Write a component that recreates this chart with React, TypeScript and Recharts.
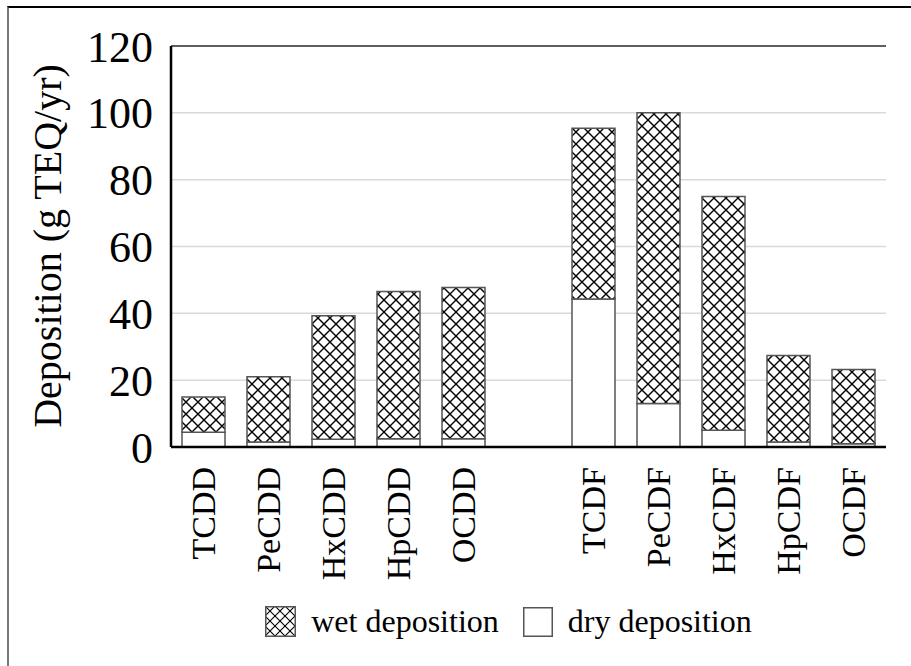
import { Bar, BarChart, CartesianGrid, Legend, ReferenceLine, XAxis, YAxis } from "recharts";

const categories = ["TCDD", "PeCDD", "HxCDD", "HpCDD", "OCDD", "", "TCDF", "PeCDF", "HxCDF", "HpCDF", "OCDF"];
const dryDeposition = [4.4, 1.5, 2.3, 2.5, 2.5, null, 44.3, 13, 5, 1.5, 1.0];
const wetDeposition = [10.6, 19.5, 37.0, 44.0, 45.2, null, 51.1, 87, 70, 25.9, 22.2];
const yTicks = [0, 20, 40, 60, 80, 100, 120];

const data = categories.map((name, i) => ({
  name,
  dry: dryDeposition[i],
  wet: wetDeposition[i],
}));

const serif = '"Liberation Serif", "Times New Roman", serif';

const colors = {
  ink: "#000000",
  barEdge: "#555555",
  grid: "#d9d9d9",
  frame: "#777777",
};

const CategoryTick = (props: any) => {
  const { x, y, payload } = props;
  return (
    <text
      x={x}
      y={y}
      dy="0.35em"
      textAnchor="end"
      transform={`rotate(-90, ${x}, ${y})`}
      fill={colors.ink}
      fontFamily={serif}
      fontSize={34}
    >
      {payload.value}
    </text>
  );
};

const AxisTitle = () => (
  <text
    x={47}
    y={246}
    textAnchor="middle"
    dominantBaseline="central"
    transform="rotate(-90, 47, 246)"
    fill={colors.ink}
    fontFamily={serif}
    fontSize={40}
  >
    Deposition (g TEQ/yr)
  </text>
);

const LegendBox = () => (
  <div
    style={{
      display: "flex",
      alignItems: "center",
      justifyContent: "center",
      fontFamily: serif,
      fontSize: 32,
      color: colors.ink,
    }}
  >
    <svg width={31} height={31} style={{ display: "block" }}>
      <rect x={0.75} y={0.75} width={29.5} height={29.5} fill="url(#crossHatchSmall)" stroke={colors.barEdge} strokeWidth={1.5} />
    </svg>
    <span style={{ marginLeft: 15 }}>wet deposition</span>
    <svg width={30} height={30} style={{ display: "block", marginLeft: 24 }}>
      <rect x={0.75} y={0.75} width={28.5} height={28.5} fill="#ffffff" stroke={colors.barEdge} strokeWidth={1.5} />
    </svg>
    <span style={{ marginLeft: 15 }}>dry deposition</span>
  </div>
);

export default function App() {
  return (
    <div style={{ position: "fixed", left: 0, top: 0, width: 911, height: 666, background: "#fff" }}>
      <svg width={0} height={0} style={{ position: "absolute" }}>
        <defs>
          <pattern id="crossHatch" patternUnits="userSpaceOnUse" width={12} height={12}>
            <rect width={12} height={12} fill="#ffffff" />
            <path d="M-3,-3 L15,15 M15,-3 L-3,15" stroke="#000" strokeWidth={1.4} />
          </pattern>
          <pattern id="crossHatchSmall" patternUnits="userSpaceOnUse" width={10} height={10}>
            <rect width={10} height={10} fill="#ffffff" />
            <path d="M-3,-3 L13,13 M13,-3 L-3,13" stroke="#000" strokeWidth={1.1} />
          </pattern>
        </defs>
      </svg>
      <div
        style={{
          position: "absolute",
          left: 7,
          top: 6,
          width: 904,
          height: 660,
          borderTop: "2px solid #000",
          borderLeft: `2px solid ${colors.frame}`,
        }}
      />
      <div style={{ position: "absolute", left: 0, top: 0 }}>
        <BarChart
          width={911}
          height={666}
          data={data}
          margin={{ top: 46, right: 25, bottom: 79, left: 0 }}
          barSize={43}
        >
          <CartesianGrid vertical={false} stroke={colors.grid} strokeWidth={1.5} />
          <XAxis
            dataKey="name"
            interval={0}
            height={140}
            tickLine={false}
            tickSize={0}
            tickMargin={20}
            axisLine={{ stroke: colors.ink, strokeWidth: 2.5 }}
            tick={<CategoryTick />}
          />
          <YAxis
            domain={[0, 120]}
            ticks={yTicks}
            width={171}
            tickLine={false}
            tickMargin={12}
            axisLine={{ stroke: colors.ink, strokeWidth: 2.5 }}
            tick={{ fill: colors.ink, fontSize: 44, fontFamily: serif }}
            label={<AxisTitle />}
          />
          <YAxis
            yAxisId="frame"
            orientation="right"
            domain={[0, 120]}
            width={0}
            tick={false}
            tickLine={false}
            axisLine={{ stroke: colors.frame, strokeWidth: 1.5 }}
          />
          <ReferenceLine y={120} stroke="#333333" strokeWidth={1.5} />
          <Legend
            layout="horizontal"
            verticalAlign="middle"
            align="center"
            content={<LegendBox />}
            wrapperStyle={{ top: 603, left: 151, width: 715, height: 44 }}
          />
          <Bar
            dataKey="dry"
            stackId="dep"
            name="dry deposition"
            fill="#ffffff"
            stroke={colors.barEdge}
            strokeWidth={1.5}
            isAnimationActive={false}
          />
          <Bar
            dataKey="wet"
            stackId="dep"
            name="wet deposition"
            fill="url(#crossHatch)"
            stroke={colors.barEdge}
            strokeWidth={1.5}
            isAnimationActive={false}
          />
        </BarChart>
      </div>
    </div>
  );
}
